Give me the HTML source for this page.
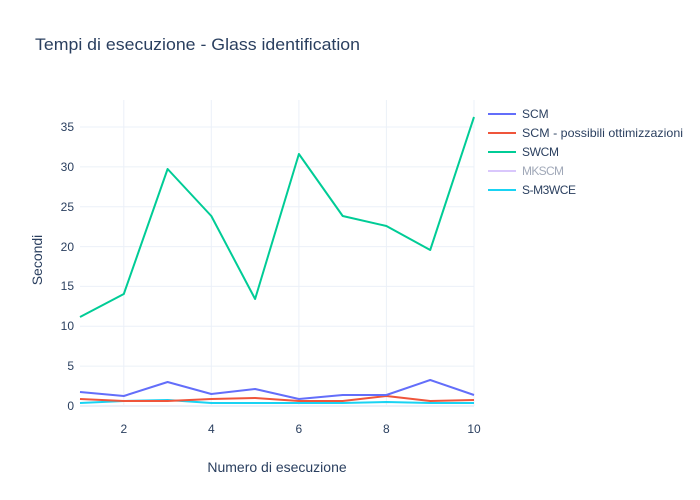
<!DOCTYPE html><html><head><style>body{margin:0;background:#fff}svg{display:block;font-family:"Liberation Sans",sans-serif}</style></head><body>
<svg width="700" height="500" xmlns="http://www.w3.org/2000/svg">
<rect width="700" height="500" fill="#fff"/>
<g stroke="#ebf0f8" stroke-width="1">
<line x1="123.8" y1="100" x2="123.8" y2="406"/><line x1="211.3" y1="100" x2="211.3" y2="406"/><line x1="298.9" y1="100" x2="298.9" y2="406"/><line x1="386.4" y1="100" x2="386.4" y2="406"/><line x1="474" y1="100" x2="474" y2="406"/>
<line x1="80" y1="366.1" x2="474" y2="366.1"/><line x1="80" y1="326.3" x2="474" y2="326.3"/><line x1="80" y1="286.4" x2="474" y2="286.4"/><line x1="80" y1="246.6" x2="474" y2="246.6"/><line x1="80" y1="206.7" x2="474" y2="206.7"/><line x1="80" y1="166.9" x2="474" y2="166.9"/><line x1="80" y1="127" x2="474" y2="127"/>
</g>
<line x1="80" y1="406" x2="474" y2="406" stroke="#ebf0f8" stroke-width="2"/>
<g font-size="12" fill="#2a3f5f" text-anchor="end">
<text x="74" y="410">0</text><text x="74" y="370">5</text><text x="74" y="330">10</text><text x="74" y="290">15</text><text x="74" y="251">20</text><text x="74" y="211">25</text><text x="74" y="171">30</text><text x="74" y="131">35</text>
</g>
<g font-size="12" fill="#2a3f5f" text-anchor="middle">
<text x="123.8" y="433">2</text><text x="211.3" y="433">4</text><text x="298.9" y="433">6</text><text x="386.4" y="433">8</text><text x="474" y="433">10</text>
</g>
<g fill="none" stroke-width="2" stroke-linejoin="round">
<polyline stroke="#00cc96" points="80,317 123.8,294 167.6,169 211.3,216 255.1,299 298.9,154 342.7,216 386.4,226 430.2,250 474,117"/>
<polyline stroke="#19d3f3" points="80,403 123.8,401 167.6,400 211.3,403 255.1,403 298.9,403 342.7,403 386.4,402 430.2,403 474,403"/>
<polyline stroke="#ef553b" points="80,399 123.8,401 167.6,401 211.3,399 255.1,398 298.9,401 342.7,401 386.4,396 430.2,401 474,400"/>
<polyline stroke="#636efa" points="80,392 123.8,396 167.6,382 211.3,394 255.1,389 298.9,399 342.7,395 386.4,395 430.2,380 474,395"/>
</g>
<text x="35" y="50" font-size="17" fill="#2a3f5f" textLength="325" lengthAdjust="spacingAndGlyphs">Tempi di esecuzione - Glass identification</text>
<text x="277" y="472" font-size="14" fill="#2a3f5f" text-anchor="middle">Numero di esecuzione</text>
<text transform="translate(42,260) rotate(-90)" font-size="14" fill="#2a3f5f" text-anchor="middle">Secondi</text>
<g stroke-width="2">
<line x1="488" y1="114" x2="516" y2="114" stroke="#636efa"/>
<line x1="488" y1="133" x2="516" y2="133" stroke="#ef553b"/>
<line x1="488" y1="152" x2="516" y2="152" stroke="#00cc96"/>
<line x1="488" y1="171" x2="516" y2="171" stroke="#d9c7fc"/>
<line x1="488" y1="190" x2="516" y2="190" stroke="#19d3f3"/>
</g>
<g font-size="12" fill="#2a3f5f">
<text x="522" y="118">SCM</text><text x="522" y="137" textLength="161" lengthAdjust="spacingAndGlyphs">SCM - possibili ottimizzazioni</text><text x="522" y="156" textLength="37">SWCM</text><text x="522" y="175" fill="#a0a8b8" textLength="42">MKSCM</text><text x="522" y="194" textLength="54">S-M3WCE</text>
</g>
</svg></body></html>
